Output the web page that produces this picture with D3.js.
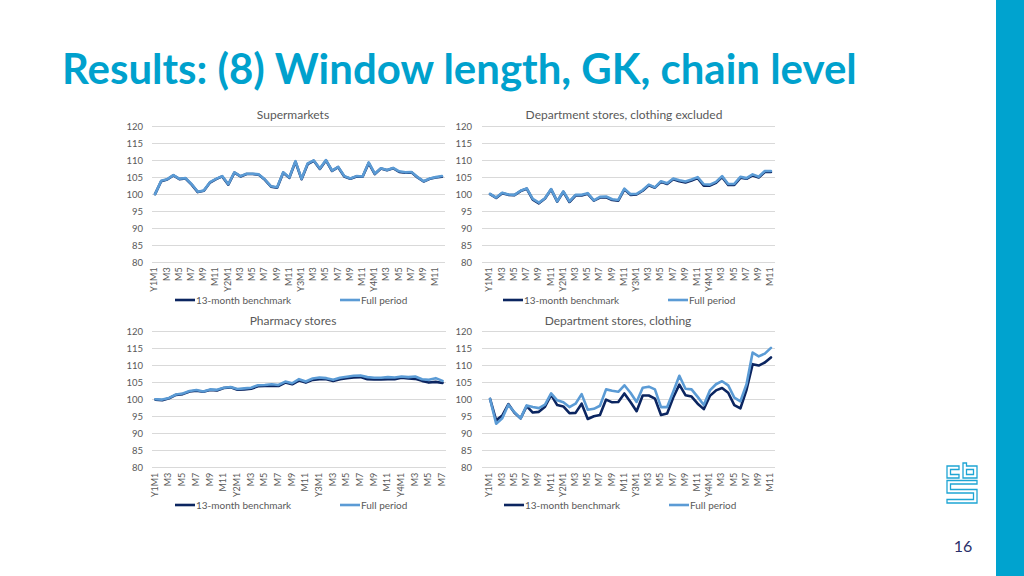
<!DOCTYPE html>
<html>
<head>
<meta charset="utf-8">
<script src="https://cdn.jsdelivr.net/npm/d3@7"></script>
<style>
  html, body { margin: 0; padding: 0; background: #ffffff; }
  svg { display: block; }
  text { font-family: "Lato", "Liberation Sans", sans-serif; }
</style>
</head>
<body>
<svg id="chart" width="1024" height="576"></svg>
<script>
// ---------------- DATA ----------------
const pageTitle = "Results: (8) Window length, GK, chain level";
const pageNumber = "16";
const seriesNames = ["13-month benchmark", "Full period"];
const yTicks = [80, 85, 90, 95, 100, 105, 110, 115, 120];
const years = ["Y1", "Y2", "Y3", "Y4"];
const monthNums = [1, 2, 3, 4, 5, 6, 7, 8, 9, 10, 11, 12];

const panelTitles = ["Supermarkets", "Department stores, clothing excluded", "Pharmacy stores", "Department stores, clothing"];
const monthCounts = [48, 47, 43, 47];

const superBench = [100, 103.8, 104.3, 105.5, 104.4, 104.6, 102.8, 100.6, 101, 103.4, 104.4, 105.2,
  102.8, 106.3, 105.2, 105.9, 105.9, 105.7, 104.2, 102.2, 101.9, 106.3, 104.8, 109.5,
  104.4, 108.8, 109.8, 107.4, 109.9, 106.8, 107.9, 105.2, 104.5, 105.2, 105.1, 109.1,
  105.9, 107.5, 107, 107.6, 106.5, 106.3, 106.4, 104.9, 103.7, 104.5, 104.9, 105.1];
const superFull = [100, 103.9, 104.4, 105.6, 104.5, 104.7, 102.9, 100.7, 101.1, 103.5, 104.5, 105.3,
  102.9, 106.4, 105.3, 106, 106, 105.8, 104.3, 102.3, 102, 106.4, 104.9, 109.7,
  104.5, 109, 109.9, 107.5, 110, 106.9, 108, 105.3, 104.6, 105.3, 105.2, 109.3,
  106, 107.6, 107.1, 107.7, 106.7, 106.4, 106.5, 105, 103.8, 104.6, 105, 105.3];

const deptExBench = [100, 98.9, 100.3, 99.8, 99.7, 100.9, 101.6, 98.4, 97.3, 98.7, 101.4, 97.8,
  100.7, 97.7, 99.6, 99.6, 100.1, 98.1, 99, 99.1, 98.3, 98.1, 101.4, 99.8,
  99.9, 101, 102.6, 101.9, 103.6, 103, 104.4, 103.8, 103.4, 104, 104.7, 102.5,
  102.5, 103.3, 105, 102.7, 102.7, 104.8, 104.5, 105.5, 104.9, 106.5, 106.5];
const deptExFull = [100.1, 99, 100.4, 99.9, 99.8, 101, 101.7, 98.6, 97.5, 98.8, 101.5, 97.9,
  100.8, 97.9, 99.8, 99.8, 100.3, 98.2, 99.2, 99.3, 98.5, 98.3, 101.6, 100,
  100.1, 101.2, 102.8, 102, 103.8, 103.2, 104.6, 104.1, 103.7, 104.3, 105, 102.9,
  102.8, 103.6, 105.3, 103, 103, 105.1, 104.7, 105.8, 105.1, 106.8, 106.8];

const pharmBench = [100, 99.8, 100.4, 101.4, 101.6, 102.4, 102.6, 102.3, 102.8, 102.7, 103.4, 103.6,
  102.9, 103, 103.2, 103.9, 104, 104.1, 104, 105, 104.5, 105.6, 105, 105.8,
  106, 106, 105.5, 106, 106.3, 106.5, 106.6, 106, 105.9, 105.9, 106, 106,
  106.4, 106.2, 106.1, 105.5, 105, 105.2, 104.9];
const pharmFull = [100.1, 100, 100.5, 101.5, 101.8, 102.5, 102.8, 102.4, 103, 102.9, 103.5, 103.7,
  103.1, 103.3, 103.5, 104.2, 104.3, 104.5, 104.3, 105.3, 104.8, 106, 105.3, 106.2,
  106.5, 106.3, 105.8, 106.4, 106.7, 107, 107.1, 106.6, 106.4, 106.4, 106.6, 106.5,
  106.8, 106.6, 106.8, 106, 105.8, 106.3, 105.5];

const clothBench = [100.2, 93.9, 95.3, 98.7, 96.1, 94.5, 98.1, 96.2, 96.4, 97.9, 101.4, 98.4,
  98, 96, 96.1, 98.8, 94.3, 95.1, 95.5, 100, 99.2, 99.3, 101.8, 99.3,
  96.6, 101.2, 101.2, 100.3, 95.5, 95.9, 100.6, 104.4, 101.3, 100.9, 98.8, 97.2,
  101.1, 102.7, 103.4, 102, 98.4, 97.4, 102.9, 110.4, 110, 110.9, 112.4];
const clothFull = [100.2, 92.9, 94.5, 98.5, 96.3, 94.5, 98.3, 97.8, 97.5, 98.5, 101.8, 99.8,
  99.2, 97.8, 98.8, 101.6, 97, 97.3, 98.2, 103, 102.6, 102.3, 104.2, 102,
  99.3, 103.5, 103.8, 103, 97.8, 97.8, 102.3, 107, 103.2, 103, 100.8, 98.4,
  102.7, 104.5, 105.4, 104.2, 100.6, 99.5, 104.5, 113.8, 112.7, 113.5, 115.2];

// ---------------- LAYOUT / STYLE ----------------
const C = {
  title: "#00a1cd", bar: "#00a3cf", grid: "#d9d9d9", text: "#595959",
  bench: "#0b2560", full: "#5b9bd5", logo: "#1ea5d4", page: "#2a2f6a"
};

const allCats = [];
years.forEach(y => monthNums.forEach(m => allCats.push({ id: y + "M" + m, label: m === 1 ? y + "M1" : (m % 2 === 1 ? "M" + m : "") })));

const layout = [
  { bench: superBench, full: superFull, grid: [152, 445], xr: [152, 445], y: [262.3, 126], yLabX: 143, titleX: 293, titleY: 119, legY: 300, legX: [175, 340] },
  { bench: deptExBench, full: deptExFull, grid: [482, 775], xr: [487, 774], y: [262.3, 126], yLabX: 472, titleX: 624, titleY: 119, legY: 300, legX: [503, 668] },
  { bench: pharmBench, full: pharmFull, grid: [152, 446], xr: [152, 446], y: [467.7, 331.5], yLabX: 143, titleX: 293, titleY: 325, legY: 505, legX: [175, 340] },
  { bench: clothBench, full: clothFull, grid: [482, 775], xr: [487, 774], y: [467.7, 331.5], yLabX: 472, titleX: 618, titleY: 325, legY: 505, legX: [504, 669] }
];

const svg = d3.select("#chart");

// right blue bar
svg.append("rect").attr("x", 996).attr("y", 0).attr("width", 28).attr("height", 576).attr("fill", C.bar);

// page title, fitted to the reference width
const tt = svg.append("text").attr("x", 62).attr("y", 84)
  .attr("fill", C.title).attr("font-weight", 700).attr("font-size", 36).text(pageTitle);
const w0 = tt.node().getComputedTextLength();
tt.attr("font-size", 36 * 795 / w0);

layout.forEach((p, i) => {
  const cats = allCats.slice(0, monthCounts[i]);
  const g = svg.append("g");
  const x = d3.scalePoint().domain(cats.map(c => c.id)).range(p.xr).padding(0.5);
  const y = d3.scaleLinear().domain([80, 120]).range(p.y);

  // gridlines
  g.append("g").selectAll("line").data(yTicks).join("line")
    .attr("x1", p.grid[0]).attr("x2", p.grid[1])
    .attr("y1", d => y(d)).attr("y2", d => y(d))
    .attr("stroke", C.grid).attr("stroke-width", 1).attr("shape-rendering", "crispEdges");

  // y axis labels
  const yAxis = d3.axisLeft(y).tickValues(yTicks).tickSize(0).tickPadding(0);
  const ya = g.append("g").attr("transform", `translate(${p.yLabX},0)`).call(yAxis);
  ya.select(".domain").remove();
  ya.selectAll("text").attr("fill", C.text).attr("font-size", 9.5).attr("font-family", "Lato, sans-serif");

  // x axis labels (rotated)
  const xAxis = d3.axisBottom(x).tickSize(0).tickPadding(0).tickFormat(id => cats.find(c => c.id === id).label);
  const xa = g.append("g").attr("transform", `translate(0,${p.y[0]})`).call(xAxis);
  xa.select(".domain").remove();
  xa.selectAll("text")
    .attr("fill", C.text).attr("font-size", 9).attr("font-family", "Lato, sans-serif")
    .attr("text-anchor", "end").attr("dy", "0.32em")
    .attr("transform", "translate(-1,5) rotate(-90)")
    .attr("x", 0).attr("y", 0);

  // lines
  const line = d3.line().x((d, j) => x(cats[j].id)).y(d => y(d));
  g.append("path").datum(p.bench).attr("d", line).attr("fill", "none")
    .attr("stroke", C.bench).attr("stroke-width", 2.6).attr("stroke-linejoin", "round").attr("stroke-linecap", "round");
  g.append("path").datum(p.full).attr("d", line).attr("fill", "none")
    .attr("stroke", C.full).attr("stroke-width", 2.6).attr("stroke-linejoin", "round").attr("stroke-linecap", "round");

  // title
  g.append("text").attr("x", p.titleX).attr("y", p.titleY).attr("text-anchor", "middle")
    .attr("fill", C.text).attr("font-size", 12).text(panelTitles[i]);

  // legend
  [C.bench, C.full].forEach((col, k) => {
    const lx = p.legX[k];
    g.append("line").attr("x1", lx).attr("x2", lx + 20).attr("y1", p.legY).attr("y2", p.legY)
      .attr("stroke", col).attr("stroke-width", 2.6);
    g.append("text").attr("x", lx + 21).attr("y", p.legY).attr("dy", "0.35em")
      .attr("fill", C.text).attr("font-size", 10).text(seriesNames[k]);
  });
});

// CBS logo (outline shapes)
const logo = svg.append("g").attr("fill", "none").attr("stroke", C.logo).attr("stroke-width", 1.3).attr("stroke-linejoin", "miter");
logo.append("path").attr("d", "M959,466 H947 V478 H959 V474.5 H950.5 V469.5 H959 Z");
logo.append("path").attr("d", "M963,463 H966.5 V466 H977 V478 H963 Z M966.5,469.5 H973.5 V474.5 H966.5 Z");
logo.append("path").attr("d", "M947,480.5 H977 V484 H950.5 V489.5 H977 V503 H947 V499.5 H973.5 V493 H947 Z");

// page number
svg.append("text").attr("x", 963).attr("y", 552).attr("text-anchor", "middle")
  .attr("fill", C.page).attr("font-size", 16).text(pageNumber);
</script>
</body>
</html>
